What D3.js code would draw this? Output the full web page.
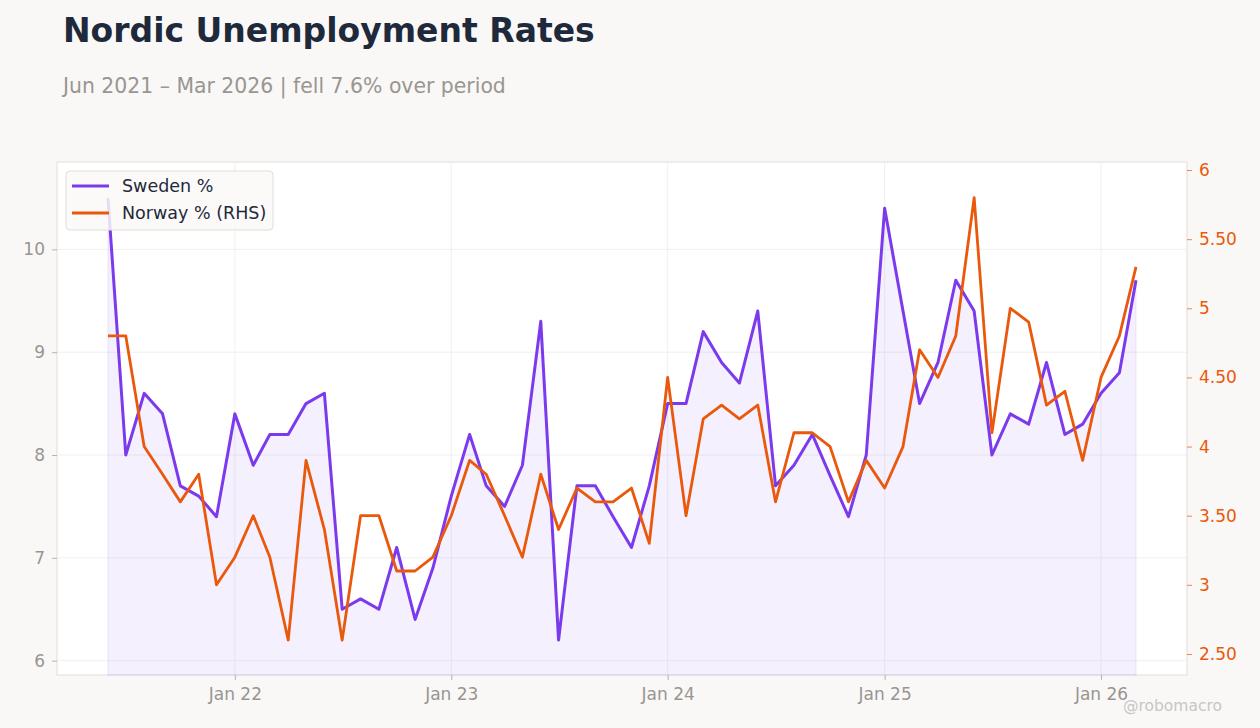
<!DOCTYPE html>
<html>
<head>
<meta charset="utf-8">
<script src="https://cdn.jsdelivr.net/npm/d3@7"></script>
<style>
    body { margin: 0; background: #f9f8f6; }
    svg { display: block; font-family: "DejaVu Sans", sans-serif; }
</style>
</head>
<body>
<svg id="chart" width="1260" height="728"></svg>
<script>
// monthly, Jun 2021 .. Mar 2026
const startMonth = new Date(2021, 5, 1);
const sweden = [10.5, 8.0, 8.6, 8.4, 7.7, 7.6, 7.4,
    8.4, 7.9, 8.2, 8.2, 8.5, 8.6, 6.5, 6.6, 6.5, 7.1, 6.4, 6.9,
    7.6, 8.2, 7.7, 7.5, 7.9, 9.3, 6.2, 7.7, 7.7, 7.4, 7.1, 7.7,
    8.5, 8.5, 9.2, 8.9, 8.7, 9.4, 7.7, 7.9, 8.2, 7.8, 7.4, 8.0,
    10.4, 9.4, 8.5, 8.9, 9.7, 9.4, 8.0, 8.4, 8.3, 8.9, 8.2, 8.3,
    8.6, 8.8, 9.7];
const norway = [4.8, 4.8, 4.0, 3.8, 3.6, 3.8, 3.0,
    3.2, 3.5, 3.2, 2.6, 3.9, 3.4, 2.6, 3.5, 3.5, 3.1, 3.1, 3.2,
    3.5, 3.9, 3.8, 3.5, 3.2, 3.8, 3.4, 3.7, 3.6, 3.6, 3.7, 3.3,
    4.5, 3.5, 4.2, 4.3, 4.2, 4.3, 3.6, 4.1, 4.1, 4.0, 3.6, 3.9,
    3.7, 4.0, 4.7, 4.5, 4.8, 5.8, 4.1, 5.0, 4.9, 4.3, 4.4, 3.9,
    4.5, 4.8, 5.3];
const leftTicks = [6, 7, 8, 9, 10];
const rightTicks = [2.5, 3, 3.5, 4, 4.5, 5, 5.5, 6];
const xTickYears = [2022, 2023, 2024, 2025, 2026];

const SWE = "#7c3aed";
const NOR = "#ea580c";
const GREY = "#999591";

const svg = d3.select("#chart");
const plot = { left: 57, right: 1187, top: 162, bottom: 675 };

const dates = sweden.map((d, i) => d3.timeMonth.offset(startMonth, i));
const rows = dates.map((d, i) => ({ date: d, swe: sweden[i], nor: norway[i] }));

const x = d3.scaleTime()
    .domain([dates[0], dates[dates.length - 1]])
    .range([plot.left + 51, plot.right - 51]);
const yL = d3.scaleLinear().domain([5.86, 10.85]).range([plot.bottom, plot.top]);
const yR = d3.scaleLinear().domain([2.348, 6.058]).range([plot.bottom, plot.top]);

// title
svg.append("text")
    .attr("x", 63).attr("y", 42)
    .style("font-size", "33px").style("font-weight", "bold")
    .style("fill", "#1e293b")
    .text("Nordic Unemployment Rates");

svg.append("text")
    .attr("x", 63).attr("y", 93)
    .style("font-size", "20.4px")
    .style("fill", GREY)
    .text("Jun 2021 \u2013 Mar 2026 | fell 7.6% over period");

// plot background
svg.append("rect")
    .attr("x", plot.left).attr("y", plot.top)
    .attr("width", plot.right - plot.left).attr("height", plot.bottom - plot.top)
    .style("fill", "#ffffff")
    .style("stroke", "#e2ddd8").style("stroke-width", 1);

// grid
const xTicks = xTickYears.map(y => new Date(y, 0, 1));
svg.append("g").selectAll("line")
    .data(leftTicks).enter().append("line")
    .attr("x1", plot.left).attr("x2", plot.right)
    .attr("y1", d => yL(d)).attr("y2", d => yL(d))
    .style("stroke", "#ececec").style("stroke-width", 0.8);
svg.append("g").selectAll("line")
    .data(xTicks).enter().append("line")
    .attr("x1", d => x(d)).attr("x2", d => x(d))
    .attr("y1", plot.top).attr("y2", plot.bottom)
    .style("stroke", "#ececec").style("stroke-width", 0.8);

// area under Sweden
const area = d3.area()
    .x(d => x(d.date))
    .y0(plot.bottom)
    .y1(d => yL(d.swe));
svg.append("path")
    .datum(rows)
    .attr("d", area)
    .style("fill", SWE).style("fill-opacity", 0.08)
    .style("stroke", SWE).style("stroke-opacity", 0.08).style("stroke-width", 1.5);

// lines
const lineSwe = d3.line().x(d => x(d.date)).y(d => yL(d.swe));
const lineNor = d3.line().x(d => x(d.date)).y(d => yR(d.nor));

svg.append("path")
    .datum(rows)
    .attr("d", lineSwe)
    .style("fill", "none").style("stroke", SWE)
    .style("stroke-width", 3).style("stroke-linejoin", "round");

svg.append("path")
    .datum(rows)
    .attr("d", lineNor)
    .style("fill", "none").style("stroke", NOR)
    .style("stroke-width", 2.8).style("stroke-linejoin", "round");

// axes
function styleAxis(g, color) {
    g.select(".domain").remove();
    g.selectAll(".tick line").style("stroke", color).style("stroke-opacity", 0.7);
    g.selectAll(".tick text")
        .style("fill", color)
        .style("font-size", "17px")
        .style("font-family", "DejaVu Sans, sans-serif");
}

const axL = svg.append("g")
    .attr("transform", `translate(${plot.left},0)`)
    .call(d3.axisLeft(yL).tickValues(leftTicks).tickSize(5).tickPadding(7)
        .tickFormat(d => d));
styleAxis(axL, GREY);

const axR = svg.append("g")
    .attr("transform", `translate(${plot.right},0)`)
    .call(d3.axisRight(yR).tickValues(rightTicks).tickSize(5).tickPadding(7)
        .tickFormat(d => Number.isInteger(d) ? d : d.toFixed(2)));
styleAxis(axR, NOR);

const axB = svg.append("g")
    .attr("transform", `translate(0,${plot.bottom})`)
    .call(d3.axisBottom(x).tickValues(xTicks).tickSize(5).tickPadding(8)
        .tickFormat(d3.timeFormat("%b %y")));
styleAxis(axB, GREY);

// legend
const legend = svg.append("g").attr("transform", "translate(66,171)");
legend.append("rect")
    .attr("width", 207).attr("height", 59).attr("rx", 4)
    .style("fill", "#faf9f7").style("fill-opacity", 0.85)
    .style("stroke", "#e2ddd8");

const legendItems = [
    { label: "Sweden %", color: SWE },
    { label: "Norway % (RHS)", color: NOR }
];
legendItems.forEach((item, i) => {
    const cy = 15 + i * 27;
    legend.append("line")
        .attr("x1", 6).attr("x2", 43)
        .attr("y1", cy).attr("y2", cy)
        .style("stroke", item.color).style("stroke-width", 3);
    legend.append("text")
        .attr("x", 56).attr("y", cy)
        .attr("dy", "0.35em")
        .style("font-size", "17.5px")
        .style("fill", "#1e293b")
        .text(item.label);
});

// watermark
svg.append("text")
    .attr("x", 1222).attr("y", 711)
    .attr("text-anchor", "end")
    .style("font-size", "15.5px")
    .style("fill", "#c8c6c3")
    .text("@robomacro");
</script>
</body>
</html>
